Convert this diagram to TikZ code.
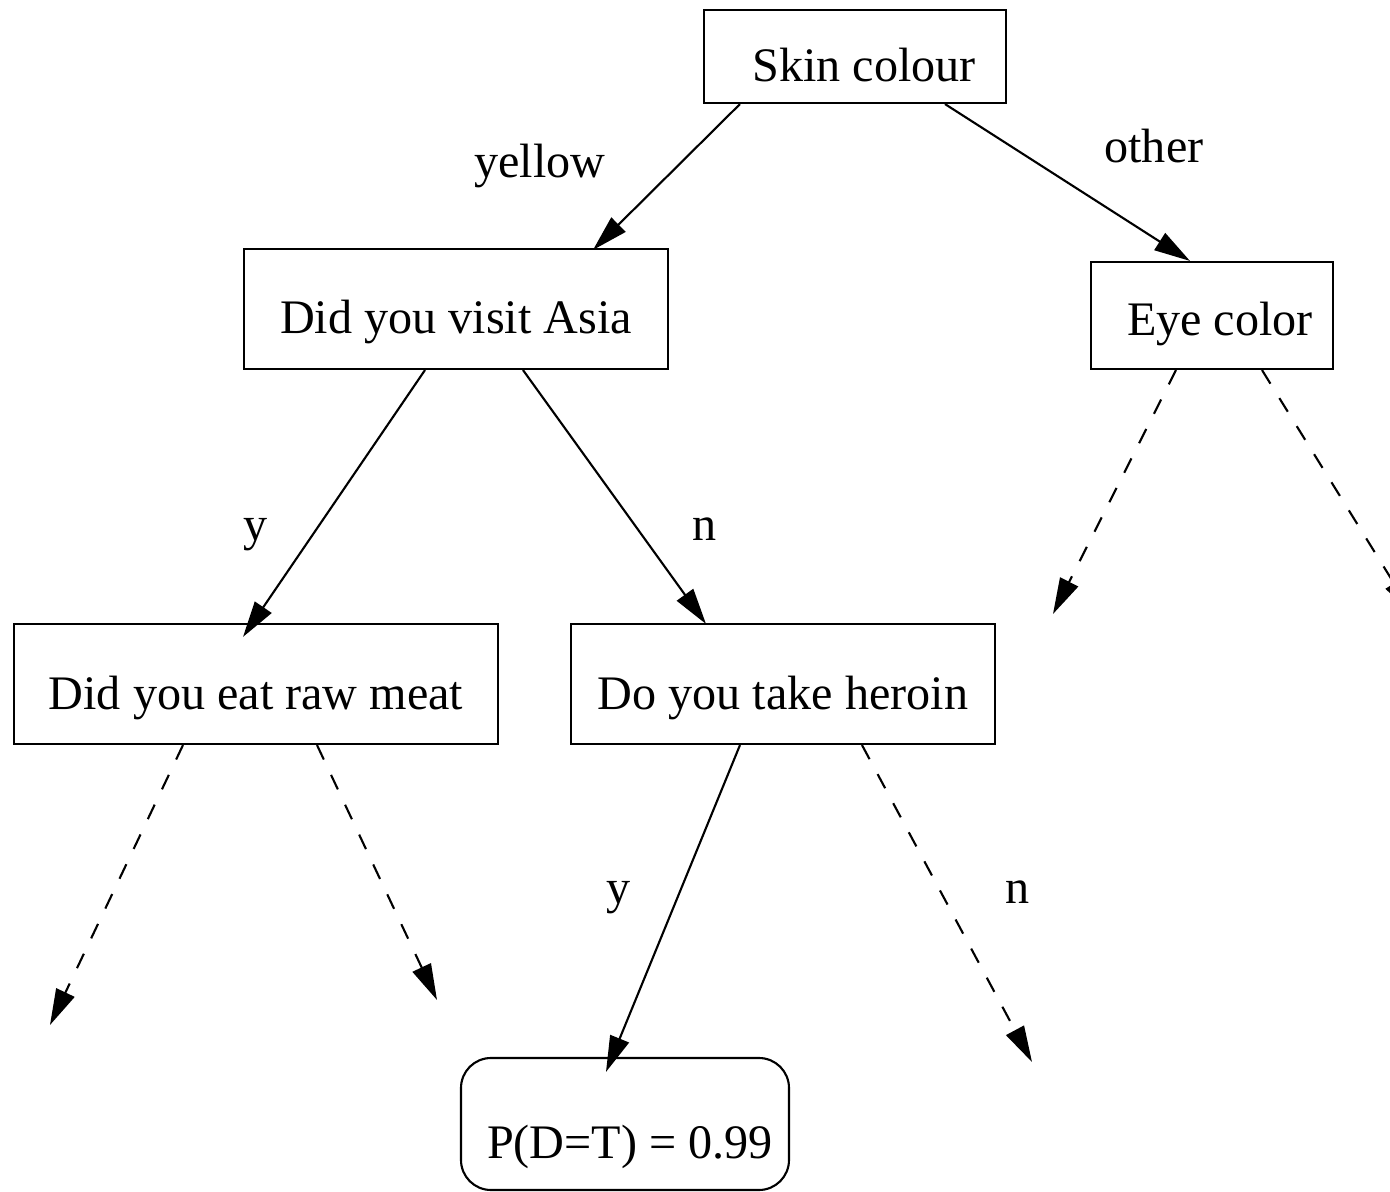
\documentclass[tikz,border=0pt]{standalone}
\usepackage{fontspec}
\setmainfont{Liberation Serif}
\usepackage{tikz}
\usetikzlibrary{arrows.meta,positioning,calc}
\tikzstyle{rectpregunta} = [rectangle, draw=black, line width=0.6pt, text centered, minimum height=1.2cm, inner sep=0pt]
\tikzstyle{rectresultado} = [rectangle, rounded corners=0.3cm, draw=black, line width=0.6pt, text centered, minimum width=3.28cm, minimum height=1.32cm, inner sep=0pt]
\tikzstyle{etiqueta} = [anchor=base, inner sep=0pt]
\tikzstyle{arrow} = [line width=0.6pt,-{Triangle[length=0.36cm,width=0.2cm]}]
\tikzstyle{dasharrow} = [arrow, dash pattern=on 0.16cm off 0.17cm]
% texto desplazado dentro del cuadro
\newcommand{\bajado}[3]{\hspace*{#1}\raisebox{-#2}[\height][\depth]{#3}}

\begin{document}
\begin{tikzpicture}[font=\fontsize{13.7}{16}\selectfont]
	\clip (0,0) rectangle (13.9,-11.92);
	% Cuadros
	\node (skin) [rectpregunta, minimum width=3.02cm, minimum height=0.93cm] at (8.55,-0.565) {\bajado{0.18cm}{0.09cm}{Skin colour}};
	\node (asia) [rectpregunta, minimum width=4.24cm] at (4.56,-3.09) {\bajado{0cm}{0.13cm}{Did you visit Asia}};
	\node (eye) [rectpregunta, minimum width=2.42cm, minimum height=1.07cm] at (12.12,-3.155) {\bajado{0.16cm}{0.08cm}{Eye color}};
	\node (meat) [rectpregunta, minimum width=4.84cm] at (2.56,-6.84) {\bajado{0cm}{0.14cm}{Did you eat raw meat}};
	\node (heroin) [rectpregunta, minimum width=4.24cm] at (7.83,-6.84) {\bajado{0cm}{0.14cm}{Do you take heroin}};
	\node (prob) [rectresultado] at (6.25,-11.24) {\bajado{0.1cm}{0.23cm}{P(D=T) = 0.99}};
	% Etiquetas
	\node (lyellow) [etiqueta] at (5.40,-1.77) {yellow};
	\node (lother) [etiqueta] at (11.54,-1.63) {other};
	\node (lasiay) [etiqueta] at (2.56,-5.40) {y};
	\node (lasian) [etiqueta] at (7.05,-5.40) {n};
	\node (lheroiny) [etiqueta] at (6.19,-9.03) {y};
	\node (lheroinn) [etiqueta] at (10.18,-9.03) {n};
	% Extremos libres
	\coordinate (eyeizq) at (10.53,-6.14);
	\coordinate (eyeder) at (14.13,-6.14);
	\coordinate (meatizq) at (0.50,-10.25);
	\coordinate (meatder) at (4.37,-10.00);
	\coordinate (heroinder) at (10.32,-10.62);
	% Flechas
	\draw[arrow] ([xshift=-1.15cm]skin.south) -- ([xshift=1.37cm,yshift=-0.02cm]asia.north);
	\draw[arrow] ([xshift=0.90cm]skin.south) -- ([xshift=-0.22cm]eye.north);
	\draw[arrow] ([xshift=-0.31cm]asia.south) -- ([xshift=-0.13cm,yshift=-0.14cm]meat.north);
	\draw[arrow] ([xshift=0.67cm]asia.south) -- ([xshift=-0.77cm,yshift=-0.01cm]heroin.north);
	\draw[dasharrow] ([xshift=-0.36cm]eye.south) -- (eyeizq);
	\draw[dasharrow] ([xshift=0.50cm]eye.south) -- (eyeder);
	\draw[dasharrow] ([xshift=-0.73cm]meat.south) -- (meatizq);
	\draw[dasharrow] ([xshift=0.61cm]meat.south) -- (meatder);
	\draw[arrow] ([xshift=-0.43cm]heroin.south) -- ([xshift=-0.19cm,yshift=-0.15cm]prob.north);
	\draw[dasharrow] ([xshift=0.79cm]heroin.south) -- (heroinder);
\end{tikzpicture}
\end{document}
